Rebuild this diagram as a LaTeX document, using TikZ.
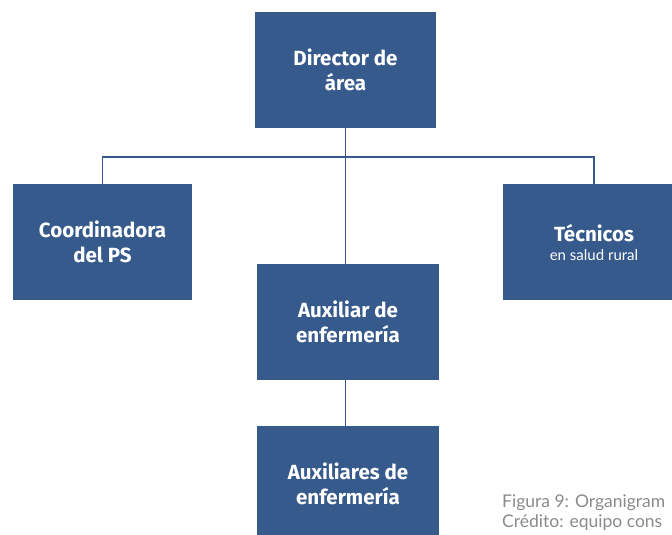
\documentclass[tikz,border=0pt]{standalone}
\usepackage{fontspec}
\setmainfont{Lato}
\newfontfamily\boxfont{Fira Sans}
\definecolor{boxblue}{HTML}{375A8C}
\definecolor{capgray}{HTML}{8A8A8A}
\begin{document}
\begin{tikzpicture}[x=1pt,y=-1pt,
  orgbox/.style={fill=boxblue,draw=none,minimum width=181pt,minimum height=116pt,inner sep=0pt,
    text=white,align=center,font=\boxfont\bfseries\fontsize{20.5}{25}\selectfont},
  link/.style={draw=boxblue,line width=1.4pt}]
\useasboundingbox (0,0) rectangle (672,535);
\clip (0,0) rectangle (672,535);
\node[orgbox] (dir) at (345.5,70) {Director de\\área};
\node[orgbox,minimum width=179pt] (coord) at (102.5,242) {Coordinadora\\del PS};
\node[orgbox,minimum width=182pt] (tec) at (594,242) {Técnicos\\[-6pt]{\normalfont\fontsize{15}{17}\selectfont en salud rural}};
\node[orgbox,minimum width=182pt] (aux) at (348,322) {Auxiliar de\\enfermería};
\node[orgbox,minimum width=182pt] (auxs) at (348,484) {Auxiliares de\\enfermería};
\coordinate (hm) at (345.5,157);
\draw[link] (dir.south -| hm) -- (hm);
\draw[link] (coord.north) |- (hm) -| (tec.north);
\draw[link] (hm) -- (hm |- aux.north);
\draw[link] (aux.south -| hm) -- (auxs.north -| hm);
\node[anchor=north west,inner sep=0pt,text=capgray,align=left,font=\fontsize{17.5}{20}\selectfont] (cap) at (502,495) {Figura 9: Organigram\\Crédito: equipo cons};
\end{tikzpicture}
\end{document}
